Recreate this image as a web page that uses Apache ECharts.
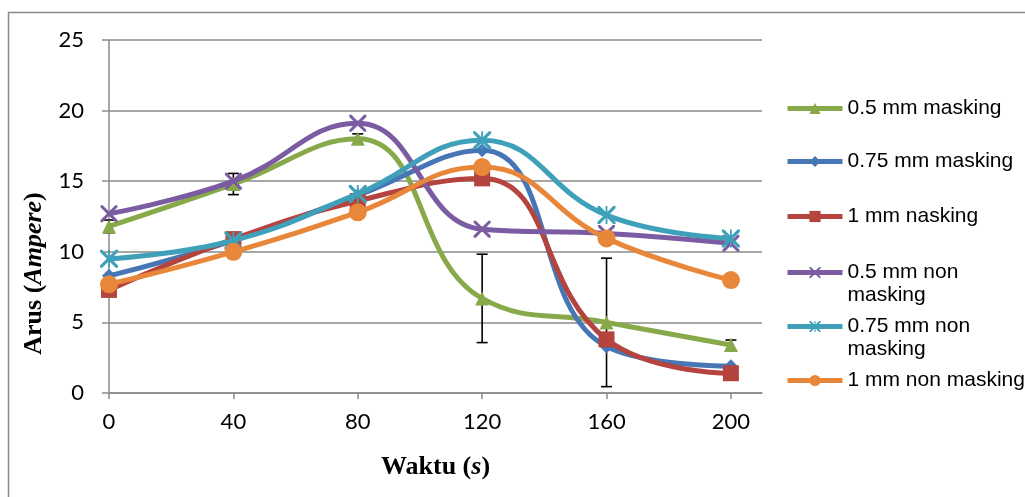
<!DOCTYPE html>
<html>
<head>
<meta charset="utf-8">
<script src="https://cdn.jsdelivr.net/npm/echarts@6/dist/echarts.min.js"></script>
<style>
html,body{margin:0;padding:0;background:#fff;}
#c{width:1025px;height:497px;}
</style>
</head>
<body>
<div id="c"></div>
<script>
// ---- data ----
const times = [0, 40, 80, 120, 160, 200];
const xTicks = [0, 40, 80, 120, 160, 200];
const yTicks = [0, 5, 10, 15, 20, 25];
const seriesNames = ['0.5 mm masking', '0.75 mm masking', '1 mm nasking', '0.5 mm non masking', '0.75 mm non masking', '1 mm non masking'];
const legendLabels = ['0.5 mm masking', '0.75 mm masking', '1 mm nasking', ' \n0.5 mm non\nmasking', ' \n0.75 mm non\nmasking', '1 mm non masking'];
const mask05 = [11.8, 14.8, 18.0, 6.7, 5.0, 3.4];
const mask075 = [8.3, 10.8, 14.0, 17.2, 3.3, 1.9];
const mask1 = [7.3, 10.9, 13.6, 15.2, 3.8, 1.4];
const nonMask05 = [12.7, 15.0, 19.1, 11.6, 11.3, 10.6];
const nonMask075 = [9.5, 10.8, 14.1, 17.9, 12.6, 10.95];
const nonMask1 = [7.7, 10.0, 12.8, 16.0, 10.95, 8.0];
const errMask05 = [0.45, 0.75, 0.35, 3.13, 4.55, 0.35];

// ---- styling ----
const colors = ['#87A94A', '#4676B6', '#B5443F', '#7B5BA1', '#3FA0BA', '#E8873A'];
const crossPath = 'path://M0,0 L2.5,0 L10,7.5 L17.5,0 L20,0 L20,2.5 L12.5,10 L20,17.5 L20,20 L17.5,20 L10,12.5 L2.5,20 L0,20 L0,17.5 L7.5,10 L0,2.5 Z';
const starPath = 'path://M0,0 L2.5,0 L10,7.5 L17.5,0 L20,0 L20,2.5 L12.5,10 L20,17.5 L20,20 L17.5,20 L10,12.5 L2.5,20 L0,20 L0,17.5 L7.5,10 L0,2.5 Z M9,0 L11,0 L11,20 L9,20 Z';
const symbols = ['triangle', 'diamond', 'rect', crossPath, starPath, 'circle'];
const symbolSizes = [14, 14, 16, 17, 18, 18];
const values = [mask05, mask075, mask1, nonMask05, nonMask075, nonMask1];
const gray = '#8a8a8a';
const tickFont = 'Lato, "Open Sans", sans-serif';
const serif = '"Liberation Serif", "Times New Roman", serif';

const chart = echarts.init(document.getElementById('c'), null, {renderer: 'canvas'});

const lineSeries = seriesNames.map((n, i) => ({
  name: n,
  type: 'line',
  smooth: 0.45,
  data: times.map((t, k) => [t, values[i][k]]),
  symbol: symbols[i],
  symbolSize: symbolSizes[i],
  showAllSymbol: true,
  lineStyle: {width: 5, color: colors[i]},
  itemStyle: {color: colors[i], borderWidth: 0},
  emphasis: {disabled: true},
  z: 2 + i
}));

const errSeries = {
  type: 'custom',
  name: 'err',
  data: times.map((t, k) => [t, mask05[k] - errMask05[k], mask05[k] + errMask05[k]]),
  renderItem: function (params, api) {
    const x = api.value(0);
    const lo = api.coord([x, api.value(1)]);
    const hi = api.coord([x, api.value(2)]);
    const w = 5.5;
    const st = {stroke: '#000', lineWidth: 1.6};
    return {
      type: 'group',
      children: [
        {type: 'line', shape: {x1: lo[0], y1: lo[1], x2: hi[0], y2: hi[1]}, style: st},
        {type: 'line', shape: {x1: lo[0] - w, y1: lo[1], x2: lo[0] + w, y2: lo[1]}, style: st},
        {type: 'line', shape: {x1: hi[0] - w, y1: hi[1], x2: hi[0] + w, y2: hi[1]}, style: st}
      ]
    };
  },
  z: 1,
  silent: true
};

const legendCenters = [108, 161, 216, 271, 325, 380];
const legends = seriesNames.map((n, i) => {
  const twoLine = legendLabels[i].indexOf('\n') >= 0;
  return {
    data: [n],
    orient: 'vertical',
    left: 785,
    top: twoLine ? legendCenters[i] - 33 : legendCenters[i] - 11,
    padding: 0,
    itemWidth: 55,
    itemHeight: 14,
    selectedMode: false,
    lineStyle: {width: 5},
    formatter: () => legendLabels[i],
    textStyle: {
      fontFamily: '"Liberation Sans", Arial, sans-serif',
      fontSize: 21,
      lineHeight: 23,
      color: '#000'
    }
  };
});

chart.setOption({
  animation: false,
  backgroundColor: '#fff',
  color: colors,
  grid: {left: 109, right: 263, top: 40, bottom: 104},
  legend: legends,
  graphic: [{
    type: 'rect',
    shape: {x: 8.5, y: 12.5, width: 1040, height: 520},
    style: {fill: 'none', stroke: gray, lineWidth: 1.5},
    silent: true,
    z: -10
  }],
  xAxis: {
    type: 'value',
    min: 0,
    max: 210,
    interval: 40,
    splitLine: {show: false},
    axisLine: {show: true, onZero: false, lineStyle: {color: gray, width: 1.5}},
    axisTick: {show: true, length: 6, lineStyle: {color: gray, width: 1.5}, customValues: xTicks},
    axisLabel: {customValues: xTicks, fontFamily: tickFont, fontSize: 22, color: '#000', margin: 18},
    name: '{b|Waktu (}{i|s}{b|)}',
    nameLocation: 'middle',
    nameGap: 61,
    nameTextStyle: {
      rich: {
        b: {fontFamily: serif, fontWeight: 'bold', fontSize: 26, color: '#000'},
        i: {fontFamily: serif, fontWeight: 'bold', fontStyle: 'italic', fontSize: 26, color: '#000'}
      }
    }
  },
  yAxis: {
    type: 'value',
    min: 0,
    max: 25,
    interval: 5,
    splitLine: {show: true, lineStyle: {color: gray, width: 1.5}},
    axisLine: {show: true, lineStyle: {color: gray, width: 1.5}},
    axisTick: {show: true, length: 7, lineStyle: {color: gray, width: 1.5}},
    axisLabel: {fontFamily: tickFont, fontSize: 22, color: '#000', margin: 25,
      formatter: v => (yTicks.indexOf(v) >= 0 ? String(v) : '')},
    name: '{b|Arus (}{i|Ampere}{b|)}',
    nameLocation: 'middle',
    nameGap: 62,
    nameRotate: 90,
    nameTextStyle: {
      padding: [0, 114, 0, 0],
      rich: {
        b: {fontFamily: serif, fontWeight: 'bold', fontSize: 26, color: '#000'},
        i: {fontFamily: serif, fontWeight: 'bold', fontStyle: 'italic', fontSize: 26, color: '#000'}
      }
    }
  },
  series: [errSeries].concat(lineSeries)
});
</script>
</body>
</html>
